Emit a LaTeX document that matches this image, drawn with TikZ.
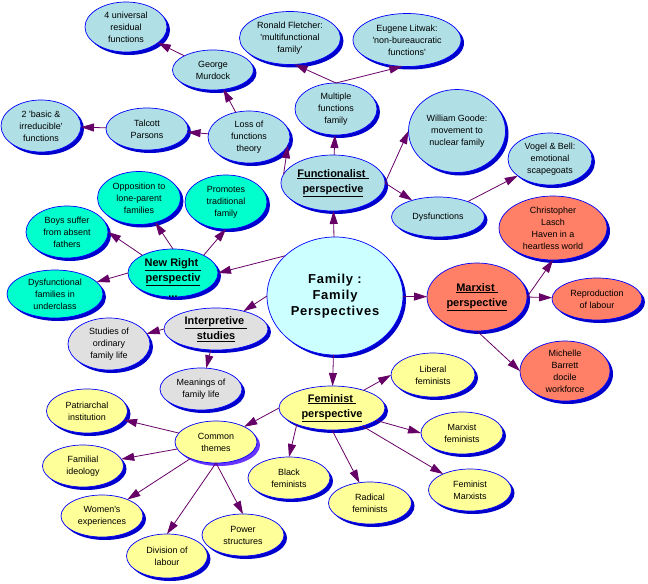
\documentclass[tikz,border=0pt]{standalone}
\usepackage{fontspec}
\setmainfont{Liberation Sans}
\newfontfamily\famfont{Liberation Sans}[LetterSpace=6]
\usetikzlibrary{shapes.geometric,shadows,arrows.meta}
\definecolor{outl}{HTML}{0000FF}
\definecolor{shd}{HTML}{0000CC}
\definecolor{shdp}{HTML}{6633FF}
\definecolor{arrc}{HTML}{660066}
\definecolor{blueF}{HTML}{B0E0E6}
\definecolor{tealF}{HTML}{00FFCC}
\definecolor{salm}{HTML}{FF8066}
\definecolor{yel}{HTML}{FFFF99}
\definecolor{gry}{HTML}{E0E0E0}
\definecolor{cen}{HTML}{CCFFFF}
\newcommand\qq{\textquotesingle}
\begin{document}
\begin{tikzpicture}[x=1bp,y=-1bp,
  txt/.style={font=\fontsize{9}{12}\selectfont, align=center, inner sep=0pt, text=black},
  txtb/.style={font=\fontsize{11}{15.5}\selectfont\bfseries, align=center, inner sep=0pt, text=black},
  bubbase/.style={ellipse, draw=outl, line width=0.7bp, fill=#1, inner sep=0pt, outer sep=0pt},
  bub/.style={bubbase=#1, drop shadow={shadow xshift=3bp, shadow yshift=-3bp, fill=shd, opacity=1}},
  bubp/.style={bubbase=#1, drop shadow={shadow xshift=3bp, shadow yshift=-3bp, fill=shdp, opacity=1}},
  sz/.style 2 args={minimum width=#1bp, minimum height=#2bp},
  t/.style={label={[txt]center:{#1}}},
  tb/.style={label={[txtb]center:{#1}}},
  arr/.style={draw=arrc, line width=0.8bp, -{Triangle[length=13bp,width=8bp]}}
]
\fill[white] (0,0) rectangle (648,584);
\useasboundingbox (0,0) rectangle (648,584);

% Functionalist branch
\node[bub=blueF, sz={82}{50}, t={4 universal\\residual\\functions}] (univ) at (126,27) {};
\node[bub=blueF, sz={81}{40}, t={George\\Murdock}] (murd) at (213,70) {};
\node[bub=blueF, sz={80}{52}, t={2 \qq basic \&\\irreducible\qq\\functions}] (basic) at (41,126) {};
\node[bub=blueF, sz={82}{42}, t={Talcott\\Parsons}] (tal) at (147,129) {};
\node[bub=blueF, sz={82}{52}, t={Loss of\\functions\\theory}] (loss) at (249,137) {};
\node[bub=blueF, sz={101}{53}, t={Ronald Fletcher:\\\qq multifunctional\\family\qq}] (flet) at (290,38) {};
\node[bub=blueF, sz={108}{53}, t={Eugene Litwak:\\\qq non-bureaucratic\\functions\qq}] (litw) at (407,40) {};
\node[bub=blueF, sz={82}{52}, t={Multiple\\functions\\family}] (mult) at (336,109) {};
\node[bub=blueF, sz={97}{83}, t={William Goode:\\movement to\\nuclear family}] (goode) at (457,131) {};
\node[bub=blueF, sz={84}{52}, t={Vogel \& Bell:\\emotional\\scapegoats}] (vogel) at (550,159) {};
\node[bub=blueF, sz={104}{56}, tb={\underline{Functionalist\ }\\\underline{perspective}}] (func) at (333,183) {};
\node[bub=blueF, sz={93}{40}, t={Dysfunctions}] (dysf) at (438,217) {};

% Marxist branch
\node[bub=salm, sz={108}{64}, t={Christopher\\Lasch\\Haven in a\\heartless world}] (lasch) at (553,228) {};
\node[bub=salm, sz={100}{68}, tb={\underline{Marxist\ }\\\underline{perspective}}] (marx) at (477,297) {};
\node[bub=salm, sz={90}{42}, t={Reproduction\\of labour}] (repro) at (597,299) {};
\node[bub=salm, sz={90}{60}, t={Michelle\\Barrett\\docile\\workforce}] (mich) at (565,371) {};

% Centre
\node[bub=cen, sz={136}{118}, label={[align=center, inner sep=0pt, font=\famfont\fontsize{13}{16}\selectfont\bfseries]center:{Family :\\Family\\Perspectives}}] (fam) at (335,296) {};

% New Right branch
\node[bub=tealF, sz={83}{53}, t={Opposition to\\lone-parent\\families}] (opp) at (139,198) {};
\node[bub=tealF, sz={82}{54}, t={Promotes\\traditional\\family}] (prom) at (226,202) {};
\node[bub=tealF, sz={82}{52}, t={Boys suffer\\from absent\\fathers}] (boys) at (67,232) {};
\node[bub=tealF, sz={90}{48}, label={[txtb,yshift=-5bp]center:{\underline{New Right\ }\\\underline{perspectiv}\\...}}] (nr) at (173,273) {};
\node[bub=tealF, sz={96}{48}, t={Dysfunctional\\families in\\underclass}] (dysfam) at (55,294) {};

% Interpretive branch
\node[bub=gry, sz={104}{42}, tb={\underline{Interpretive\ }\\\underline{studies}}] (interp) at (216,329) {};
\node[bub=gry, sz={82}{52}, t={Studies of\\ordinary\\family life}] (stud) at (109,344) {};
\node[bub=gry, sz={82}{42}, t={Meanings of\\family life}] (mean) at (201,389) {};

% Feminist branch
\node[bub=yel, sz={84}{44}, t={Liberal\\feminists}] (lib) at (433,375) {};
\node[bub=yel, sz={106}{44}, tb={\underline{Feminist\ }\\\underline{perspective}}] (fem) at (332,408) {};
\node[bub=yel, sz={82}{42}, t={Marxist\\feminists}] (mfem) at (462,433) {};
\node[bub=yel, sz={83}{42}, t={Feminist\\Marxists}] (femm) at (470,490) {};
\node[bub=yel, sz={83}{42}, t={Radical\\feminists}] (rad) at (370,503) {};
\node[bub=yel, sz={82}{42}, t={Black\\feminists}] (blk) at (289,478) {};
\node[bub=yel, sz={81}{44}, t={Patriarchal\\institution}] (pat) at (87,411) {};
\node[bubp=yel, sz={82}{42}, t={Common\\themes}] (com) at (216,442) {};
\node[bub=yel, sz={81}{42}, t={Familial\\ideology}] (famil) at (83,466) {};
\node[bub=yel, sz={82}{42}, t={Women\qq s\\experiences}] (wom) at (102,516) {};
\node[bub=yel, sz={81}{44}, t={Division of\\labour}] (div) at (167,556) {};
\node[bub=yel, sz={82}{42}, t={Power\\structures}] (pow) at (243,535) {};

% Connectors
\draw[arr] (fam) -- (func);
\draw[arr] (func) -- (mult);
\draw[arr] (mult.north) -- (flet.-80);
\draw[arr] (mult.north) -- (litw.-100);
\draw[arr] (func.170) -- (loss.-12);
\draw[arr] (loss) -- (murd);
\draw[arr] (murd) -- (univ);
\draw[arr] (loss) -- (tal);
\draw[arr] (tal) -- (basic);
\draw[arr] (func.east) -- (goode.west);
\draw[arr] (func.east) -- (dysf);
\draw[arr] (dysf) -- (vogel);
\draw[arr] (fam.141) -- (nr.east);
\draw[arr] (nr.north) -- (opp);
\draw[arr] (nr.30) -- (prom.south);
\draw[arr] (nr.150) -- (boys.east);
\draw[arr] (nr.west) -- (dysfam);
\draw[arr] (fam.west) -- (interp);
\draw[arr] (interp.west) -- (stud);
\draw[arr] (interp) -- (mean);
\draw[arr] (fam) -- (marx);
\draw[arr] (marx.east) -- (lasch.south);
\draw[arr] (marx.east) -- (repro);
\draw[arr] (marx.south) -- (mich.west);
\draw[arr] (fam) -- (fem);
\draw[arr] (fem) -- (lib.west);
\draw[arr] (fem) -- (mfem.west);
\draw[arr] (fem) -- (femm);
\draw[arr] (fem.south) -- (rad);
\draw[arr] (fem.-155) -- (blk.north);
\draw[arr] (fem.west) -- (com);
\draw[arr] (com) -- (pat);
\draw[arr] (com) -- (famil);
\draw[arr] (com) -- (wom);
\draw[arr] (com.south) -- (div.north);
\draw[arr] (com.south) -- (pow.north);
\end{tikzpicture}
\end{document}
